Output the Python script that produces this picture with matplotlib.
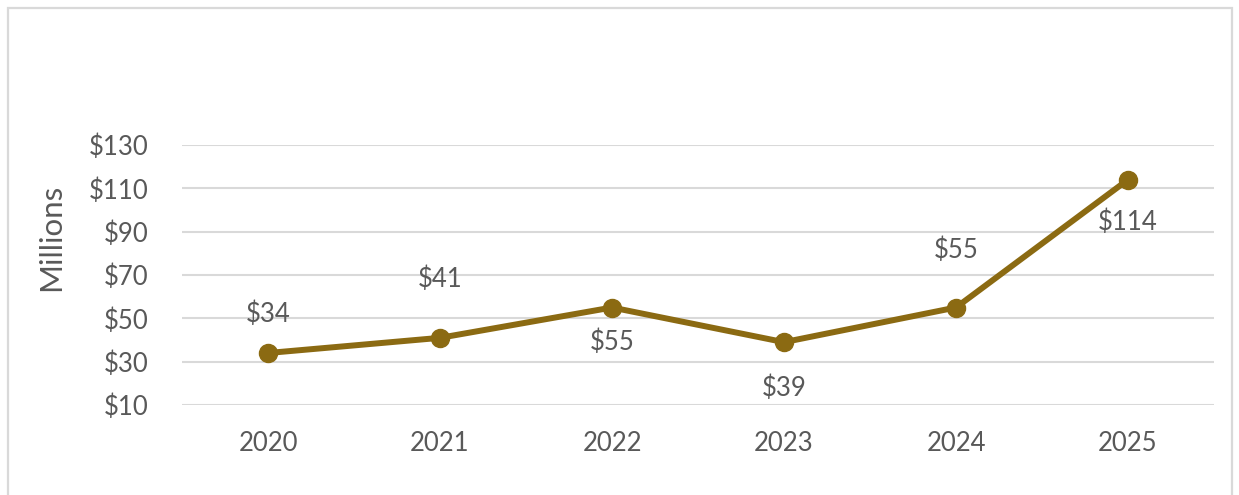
import matplotlib.pyplot as plt
from matplotlib.patches import Rectangle

# values in $ millions
years = ["2020", "2021", "2022", "2023", "2024", "2025"]
values = [34, 41, 55, 39, 55, 114]
labels = ["$34", "$41", "$55", "$39", "$55", "$114"]

# label placement (points, vertical offset from marker)
label_offsets = [28, 42, -25, -33, 41, -31]

LINE = "#8B6A12"
TEXT = "#595959"
GRID = "#D9D9D9"

plt.rcParams["font.family"] = ["Lato", "DejaVu Sans"]

fig = plt.figure(figsize=(12.39, 4.95), dpi=100)
ax = fig.add_axes([182 / 1239, 1 - 405 / 495, 1032 / 1239, 260 / 495])

x = list(range(len(years)))
ax.plot(x, values, color=LINE, lw=4.3, marker="o", ms=13, solid_capstyle="round")

for xi, v, lab, off in zip(x, values, labels, label_offsets):
    ax.annotate(lab, (xi, v), xytext=(0, off), textcoords="offset points",
                ha="center", va="center", fontsize=18.5, color=TEXT)

ax.set_xlim(-0.5, 5.5)
ax.set_ylim(10, 130)
ax.set_yticks(range(10, 131, 20))
ax.set_yticklabels([f"${t}" for t in range(10, 131, 20)])
ax.set_xticks(x)
ax.set_xticklabels(years)
ax.grid(axis="y", color=GRID, lw=1.5)
ax.set_axisbelow(True)
for s in ax.spines.values():
    s.set_visible(False)
ax.tick_params(axis="y", length=0, pad=24, labelsize=18.5, labelcolor=TEXT)
ax.tick_params(axis="x", length=0, pad=19, labelsize=18.5, labelcolor=TEXT)
ax.set_ylabel("Millions", fontsize=22.5, color=TEXT)
ax.yaxis.set_label_coords(-0.113, 0.645)

# light frame around the chart area
fig.patches.append(Rectangle((8 / 1239, -0.05), 1224 / 1239, 1.05 - 8 / 495,
                             transform=fig.transFigure, fill=False,
                             edgecolor=GRID, lw=1.6))

fig.savefig("out.png", dpi=100)
